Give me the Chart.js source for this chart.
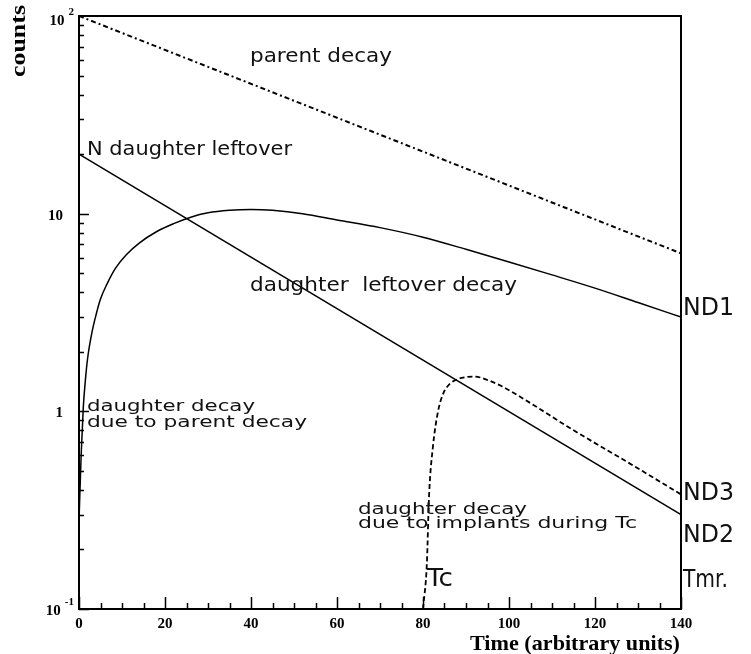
<!DOCTYPE html>
<html>
<head>
<meta charset="utf-8">
<script src="https://cdn.jsdelivr.net/npm/chart.js@4.4.0/dist/chart.umd.min.js"></script>
<style>
  html, body { margin: 0; padding: 0; background: #fff; }
  #wrap { width: 751px; height: 654px; }
</style>
</head>
<body>
<div id="wrap"><canvas id="c" width="751" height="654"></canvas></div>
<script>
// ---- data ----
const xTicks = [0, 20, 40, 60, 80, 100, 120, 140];
const yTickValues = [0.1, 1, 10, 100];
const yTickBase = ['10', '1', '10', '10'];
const yTickExp = ['-1', '', '', '2'];

const parentT = [0, 140];
const parentN = [100, 6.3];

const leftoverT = [0, 140];
const leftoverN = [20, 0.3];

const daughterT = [0, 0.5, 1, 1.5, 2, 3, 4, 5, 6.5, 8.5, 11, 14, 18, 22, 26, 30, 35, 40, 45, 52, 60, 70, 80, 90, 100, 110, 120, 130, 140];
const daughterN = [0.28, 0.6, 1.05, 1.45, 1.85, 2.5, 3.1, 3.7, 4.4, 5.3, 6.2, 7.1, 8.1, 8.9, 9.6, 10.1, 10.4, 10.5, 10.4, 10.0, 9.3, 8.5, 7.6, 6.6, 5.7, 4.9, 4.2, 3.55, 3.0];

const implantT = [80, 80.9, 81.4, 82.3, 83.5, 84.7, 86, 87.9, 90, 92, 95, 98, 105, 113.5, 129, 140];
const implantN = [0.1, 0.17, 0.37, 0.66, 1.0, 1.23, 1.36, 1.45, 1.49, 1.5, 1.44, 1.35, 1.10, 0.84, 0.53, 0.38];

function pts(xs, ys) { return xs.map((x, i) => ({ x: x, y: ys[i] })); }

// ---- annotation texts ----
const SANS = "'DejaVu Sans', sans-serif";
const SERIF = "'Liberation Serif', 'DejaVu Serif', serif";
const notes = [
  { text: 'parent decay', x: 250, y: 62, size: 20, w: 142 },
  { text: 'N daughter leftover', x: 87, y: 155, size: 20, w: 205 },
  { text: 'daughter  leftover decay', x: 250, y: 291, size: 20, w: 267 },
  { text: 'daughter decay', x: 87, y: 411, size: 16, w: 168 },
  { text: 'due to parent decay', x: 87, y: 427, size: 16, w: 220 },
  { text: 'daughter decay', x: 358, y: 514, size: 16, w: 169 },
  { text: 'due to implants during Tc', x: 358, y: 528, size: 16, w: 279 },
  { text: 'ND1', x: 683, y: 315, size: 24, w: 51 },
  { text: 'ND3', x: 683, y: 500, size: 24, w: 51 },
  { text: 'ND2', x: 683, y: 542, size: 24, w: 51 },
  { text: 'Tc', x: 427, y: 586, size: 24, w: 26 },
  { text: 'Tmr.', x: 683, y: 587, size: 24, w: 45 }
];

function fitText(ctx, t, x, y, font, w) {
  ctx.save();
  ctx.font = font;
  const m = ctx.measureText(t).width;
  const s = w ? w / m : 1;
  ctx.translate(x, y);
  ctx.scale(s, 1);
  ctx.fillText(t, 0, 0);
  ctx.restore();
}

const decor = {
  id: 'decor',
  afterDraw(chart) {
    const ctx = chart.ctx;
    const a = chart.chartArea;
    const xs = chart.scales.x, ys = chart.scales.y;
    ctx.save();
    ctx.strokeStyle = '#000';
    ctx.fillStyle = '#000';
    // frame
    ctx.lineWidth = 2;
    ctx.strokeRect(a.left, a.top, a.right - a.left, a.bottom - a.top);
    // y ticks (inward)
    ctx.lineWidth = 1.5;
    ctx.beginPath();
    for (let d = 0.1; d < 100; d *= 10) {
      for (let k = 1; k <= 9; k++) {
        const v = d * k;
        const py = Math.round(ys.getPixelForValue(v)) + 0.5;
        const len = k === 1 ? 10 : 5;
        ctx.moveTo(a.left, py); ctx.lineTo(a.left + len, py);
      }
    }
    // x ticks (inward)
    for (let t = 0; t <= 140; t += 5) {
      const px = Math.round(xs.getPixelForValue(t)) + 0.5;
      const len = t % 20 === 0 ? 12 : 6;
      ctx.moveTo(px, a.bottom); ctx.lineTo(px, a.bottom - len);
    }
    ctx.stroke();

    // x tick labels
    ctx.font = 'bold 15px ' + SERIF;
    ctx.textAlign = 'center';
    ctx.textBaseline = 'alphabetic';
    xTicks.forEach(t => ctx.fillText(String(t), xs.getPixelForValue(t), 628));

    // y tick labels
    yTickValues.forEach((v, i) => {
      const py = ys.getPixelForValue(v);
      const by = Math.max(py + 6, 25);
      const right = 74;
      let baseRight = right;
      if (yTickExp[i]) {
        ctx.font = 'bold 11px ' + SERIF;
        const ew = ctx.measureText(yTickExp[i]).width;
        ctx.textAlign = 'left';
        ctx.fillText(yTickExp[i], right - ew, by - 10);
        baseRight = right - ew - 4;
      } else {
        baseRight = 63;
      }
      ctx.font = 'bold 15px ' + SERIF;
      ctx.textAlign = 'right';
      ctx.fillText(yTickBase[i], baseRight, by);
    });

    // axis titles
    ctx.textAlign = 'left';
    fitText(ctx, 'Time (arbitrary units)', 470, 650, 'bold 21px ' + SERIF, 210);
    ctx.save();
    ctx.translate(25, 77);
    ctx.rotate(-Math.PI / 2);
    fitText(ctx, 'counts', 0, 0, 'bold 20px ' + SERIF, 72);
    ctx.restore();

    // annotations
    ctx.fillStyle = '#111';
    notes.forEach(n => fitText(ctx, n.text, n.x, n.y, n.size + 'px ' + SANS, n.w));
    ctx.restore();
  }
};

const common = { showLine: true, pointRadius: 0, borderColor: '#000', borderWidth: 1.5, fill: false };

new Chart(document.getElementById('c'), {
  type: 'scatter',
  data: {
    datasets: [
      Object.assign({}, common, { label: 'parent decay', data: pts(parentT, parentN), borderDash: [5, 3, 2, 3], borderWidth: 2 }),
      Object.assign({}, common, { label: 'N daughter leftover', data: pts(leftoverT, leftoverN) }),
      Object.assign({}, common, { label: 'daughter decay due to parent decay', data: pts(daughterT, daughterN), cubicInterpolationMode: 'monotone' }),
      Object.assign({}, common, { label: 'daughter decay due to implants during Tc', data: pts(implantT, implantN), borderDash: [5, 3], borderWidth: 1.8, cubicInterpolationMode: 'monotone' })
    ]
  },
  options: {
    responsive: false,
    animation: false,
    devicePixelRatio: 1,
    layout: { padding: { left: 79, right: 70, top: 16, bottom: 45 } },
    plugins: { legend: { display: false }, tooltip: { enabled: false } },
    scales: {
      x: { type: 'linear', display: false, min: 0, max: 140 },
      y: { type: 'logarithmic', display: false, min: 0.1, max: 100 }
    }
  },
  plugins: [decor]
});
</script>
</body>
</html>
